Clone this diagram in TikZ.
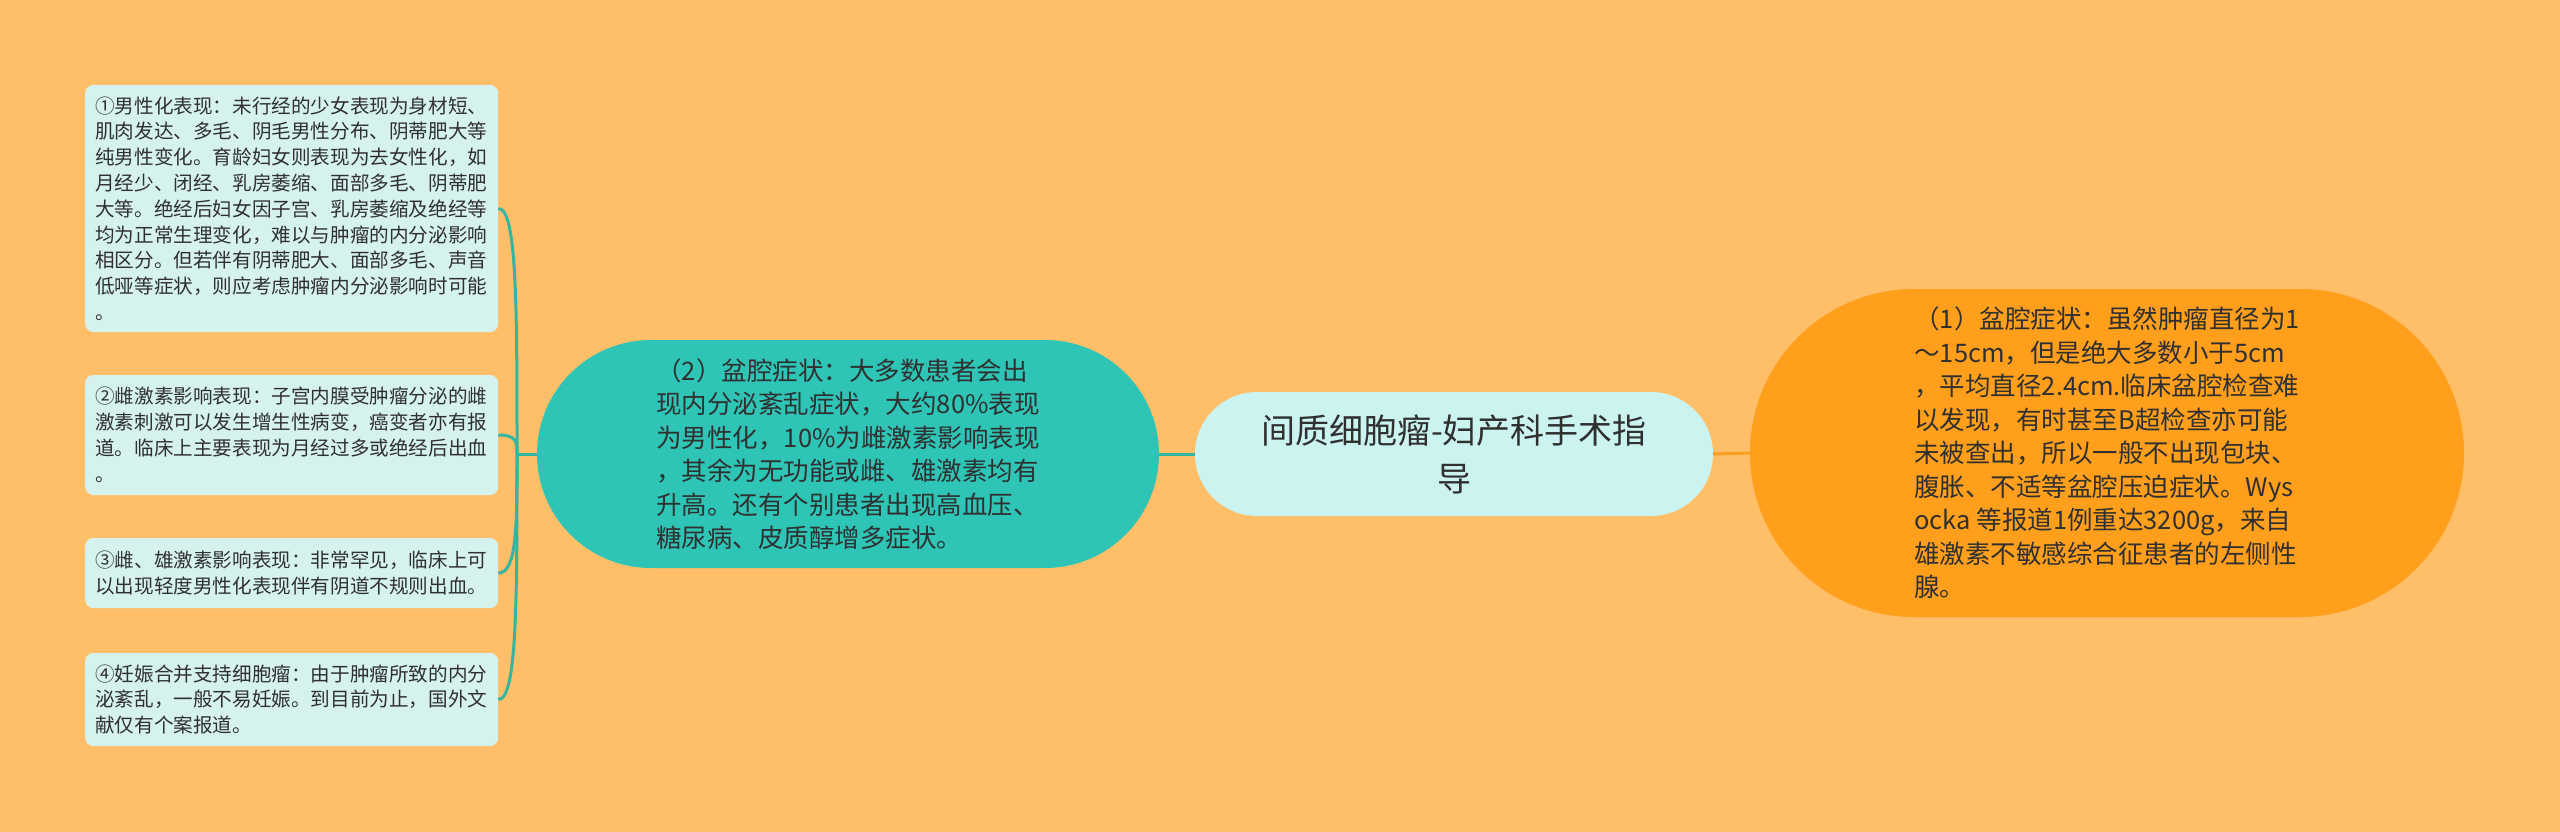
\documentclass[tikz,border=0pt]{standalone}
\usepackage{fontspec}
\setmainfont{Noto Sans CJK SC}
\usetikzlibrary{shapes.misc,calc}
\definecolor{bgcol}{HTML}{FFBF69}
\definecolor{leafcol}{HTML}{D5F2EF}
\definecolor{ctrcol}{HTML}{CBF3F0}
\definecolor{tealcol}{HTML}{2EC4B6}
\definecolor{orgcol}{HTML}{FF9F1C}
\definecolor{tealline}{HTML}{34B5A2}
\definecolor{orgline}{HTML}{F89E22}
\definecolor{txtcol}{HTML}{303030}
\tikzset{
  leafbox/.style={rectangle, rounded corners=8pt, fill=leafcol, anchor=west,
    text width=393pt, inner xsep=10pt, inner ysep=8pt, align=left, text=txtcol,
    font=\fontsize{19.6pt}{25.8pt}\selectfont},
  bigpill/.style={rounded rectangle, inner sep=0pt, align=left, text=txtcol,
    font=\fontsize{25.5pt}{33.5pt}\selectfont},
  ctrpill/.style={rounded rectangle, inner sep=0pt, fill=ctrcol, align=center, text=txtcol,
    font=\fontsize{34pt}{48pt}\selectfont, minimum width=518pt, minimum height=124pt},
  tline/.style={draw=tealline, line width=3pt},
  oline/.style={draw=orgline, line width=3pt}
}
\begin{document}
\begin{tikzpicture}[x=1pt,y=-1pt]
\useasboundingbox (0,0) rectangle (2560,832);
\fill[bgcol] (0,0) rectangle (2560,832);

\node[ctrpill] (ctr) at (1454,454) {间质细胞瘤-妇产科手术指\\导};

\node[bigpill, fill=tealcol, minimum width=622pt, minimum height=228pt] (mid) at (848,454)
{（2）盆腔症状：大多数患者会出\\
现内分泌紊乱症状，大约80\%表现\\
为男性化，10\%为雌激素影响表现\\
，其余为无功能或雌、雄激素均有\\
升高。还有个别患者出现高血压、\\
糖尿病、皮质醇增多症状。};

\node[bigpill, fill=orgcol, minimum width=714pt, minimum height=328pt] (rgt) at (2107,453)
{（1）盆腔症状：虽然肿瘤直径为1\\
～15cm，但是绝大多数小于5cm\\
，平均直径2.4cm.临床盆腔检查难\\
以发现，有时甚至B超检查亦可能\\
未被查出，所以一般不出现包块、\\
腹胀、不适等盆腔压迫症状。Wys\\
ocka 等报道1例重达3200g，来自\\
雄激素不敏感综合征患者的左侧性\\
腺。};

\node[leafbox, minimum height=247pt] (l1) at (85,208.5)
{①男性化表现：未行经的少女表现为身材短、\\
肌肉发达、多毛、阴毛男性分布、阴蒂肥大等\\
纯男性变化。育龄妇女则表现为去女性化，如\\
月经少、闭经、乳房萎缩、面部多毛、阴蒂肥\\
大等。绝经后妇女因子宫、乳房萎缩及绝经等\\
均为正常生理变化，难以与肿瘤的内分泌影响\\
相区分。但若伴有阴蒂肥大、面部多毛、声音\\
低哑等症状，则应考虑肿瘤内分泌影响时可能\\
。};

\node[leafbox, minimum height=120pt] (l2) at (85,435)
{②雌激素影响表现：子宫内膜受肿瘤分泌的雌\\
激素刺激可以发生增生性病变，癌变者亦有报\\
道。临床上主要表现为月经过多或绝经后出血\\
。};

\node[leafbox, minimum height=70pt] (l3) at (85,573)
{③雌、雄激素影响表现：非常罕见，临床上可\\
以出现轻度男性化表现伴有阴道不规则出血。};

\node[leafbox, minimum height=93pt] (l4) at (85,699.5)
{④妊娠合并支持细胞瘤：由于肿瘤所致的内分\\
泌紊乱，一般不易妊娠。到目前为止，国外文\\
献仅有个案报道。};

\coordinate (J) at (517,454);

\draw[tline] (ctr.west) -- (mid.east);
\draw[oline] (ctr.east) -- (rgt.west);
\draw[tline] (mid.west) -- (J);
\foreach \l in {l1,l2,l3,l4}{
  \draw[tline] (J) .. controls ($(J)!0.6!(J|-\l.east)$) and (J|-\l.east) .. (\l.east);
}
\end{tikzpicture}
\end{document}
